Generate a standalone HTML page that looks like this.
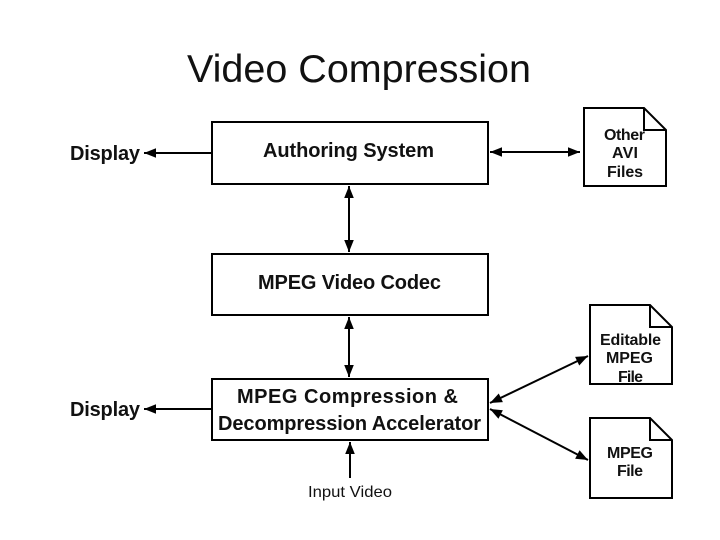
<!DOCTYPE html>
<html><head><style>
body{margin:0;background:#fff;}
svg{display:block}
text{font-family:"Liberation Sans",Arial,sans-serif;font-weight:bold;fill:#111}
</style></head><body>
<svg width="720" height="540" viewBox="0 0 720 540" xmlns="http://www.w3.org/2000/svg">
<defs>
<marker id="a" viewBox="0 0 10 10" refX="10" refY="5" markerWidth="18" markerHeight="12" markerUnits="userSpaceOnUse" orient="auto-start-reverse">
<path d="M0,1 L10,5 L0,9 Z" fill="#000"/></marker>
</defs>
<text x="187" y="82" textLength="344" lengthAdjust="spacingAndGlyphs" style="font-family:'Liberation Sans',sans-serif;font-weight:normal;font-size:39px">Video Compression</text>
<g fill="#fff" stroke="#000" stroke-width="2">
<rect x="212" y="122" width="276" height="62"/>
<rect x="212" y="254" width="276" height="61"/>
<rect x="212" y="379" width="276" height="61"/>
<path d="M584,108 H644 L666,130 V186 H584 Z"/><path d="M644,108 V130 H666" fill="none"/>
<path d="M590,305 H650 L672,327 V384 H590 Z"/><path d="M650,305 V327 H672" fill="none"/>
<path d="M590,418 H650 L672,440 V498 H590 Z"/><path d="M650,418 V440 H672" fill="none"/>
</g>
<g stroke="#000" stroke-width="2" fill="none">
<line x1="212" y1="153" x2="144" y2="153" marker-end="url(#a)"/>
<line x1="212" y1="409" x2="144" y2="409" marker-end="url(#a)"/>
<line x1="490" y1="152" x2="580" y2="152" marker-start="url(#a)" marker-end="url(#a)"/>
<line x1="349" y1="186" x2="349" y2="252" marker-start="url(#a)" marker-end="url(#a)"/>
<line x1="349" y1="317" x2="349" y2="377" marker-start="url(#a)" marker-end="url(#a)"/>
<line x1="350" y1="478" x2="350" y2="442" marker-end="url(#a)"/>
<line x1="490" y1="403" x2="588" y2="356" marker-start="url(#a)" marker-end="url(#a)"/>
<line x1="490" y1="409" x2="588" y2="460" marker-start="url(#a)" marker-end="url(#a)"/>
</g>
<g font-size="20" lengthAdjust="spacingAndGlyphs">
<text x="70" y="160" textLength="70">Display</text>
<text x="70" y="416" textLength="70">Display</text>
<text x="263" y="157" textLength="171">Authoring System</text>
<text x="258" y="289" textLength="183">MPEG Video Codec</text>
<text x="237" y="403" textLength="221">MPEG  Compression &amp;</text>
<text x="218" y="430" textLength="263">Decompression Accelerator</text>
</g>
<text x="308" y="497" font-size="16" textLength="84" lengthAdjust="spacingAndGlyphs" style="font-weight:normal">Input Video</text>
<g font-size="16" lengthAdjust="spacingAndGlyphs">
<text x="604" y="140" textLength="41">Other</text><text x="612" y="158" textLength="26">AVI</text><text x="607" y="177" textLength="36">Files</text>
<text x="600" y="345" textLength="61">Editable</text><text x="606" y="363" textLength="47">MPEG</text><text x="618" y="382" textLength="25">File</text>
<text x="607" y="458" textLength="46">MPEG</text><text x="617" y="476" textLength="26">File</text>
</g>
</svg>
</body></html>
